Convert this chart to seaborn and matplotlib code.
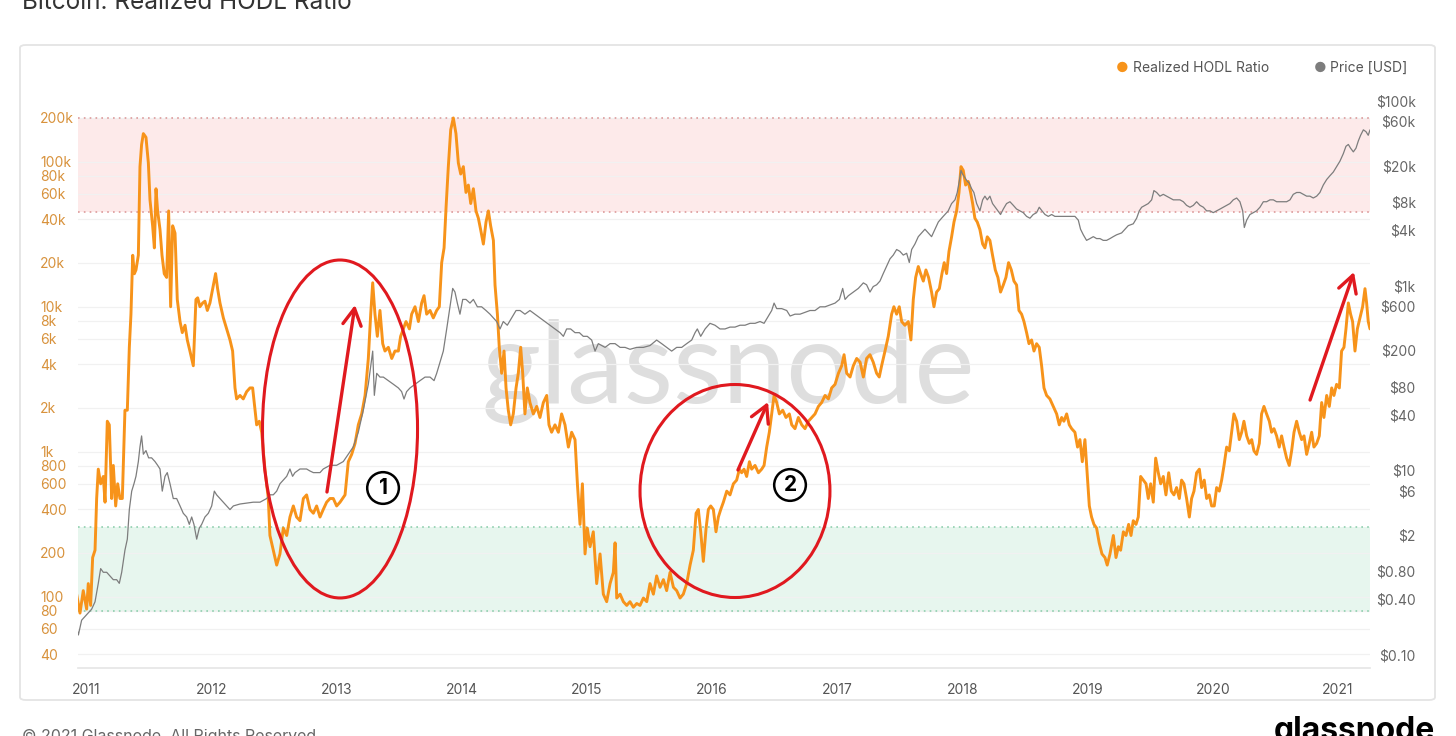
import pandas as pd
import matplotlib.pyplot as plt
import matplotlib.ticker as mticker
from matplotlib.patches import Ellipse, FancyBboxPatch
import seaborn as sns

# --- Data ---
# Realized HODL Ratio: decimal year, value
rhodl_year = [
    2010.925, 2010.952, 2010.978, 2011.005, 2011.018, 2011.037, 2011.053, 2011.072, 2011.085, 2011.098,
    2011.117, 2011.138, 2011.152, 2011.170, 2011.186, 2011.205, 2011.218, 2011.237, 2011.253, 2011.271,
    2011.290, 2011.311, 2011.330, 2011.346, 2011.359, 2011.373, 2011.386, 2011.399, 2011.418, 2011.431,
    2011.444, 2011.458, 2011.479, 2011.498, 2011.511, 2011.532, 2011.546, 2011.559, 2011.572, 2011.591,
    2011.607, 2011.625, 2011.644, 2011.660, 2011.676, 2011.692, 2011.711, 2011.729, 2011.751, 2011.769,
    2011.791, 2011.809, 2011.830, 2011.857, 2011.878, 2011.892, 2011.910, 2011.932, 2011.950, 2011.969,
    2011.990, 2012.017, 2012.035, 2012.051, 2012.070, 2012.097, 2012.123, 2012.150, 2012.171, 2012.190,
    2012.203, 2012.230, 2012.256, 2012.283, 2012.310, 2012.331, 2012.350, 2012.363, 2012.384, 2012.403,
    2012.429, 2012.456, 2012.469, 2012.496, 2012.523, 2012.549, 2012.576, 2012.603, 2012.629, 2012.656,
    2012.682, 2012.709, 2012.736, 2012.762, 2012.789, 2012.816, 2012.842, 2012.869, 2012.895, 2012.922,
    2012.949, 2012.975, 2013.002, 2013.029,
    2013.069, 2013.095, 2013.122, 2013.149, 2013.175, 2013.202, 2013.229, 2013.255, 2013.274, 2013.290,
    2013.308, 2013.327, 2013.348, 2013.370, 2013.388, 2013.415, 2013.442, 2013.468, 2013.495, 2013.513,
    2013.535, 2013.556, 2013.583, 2013.601, 2013.628, 2013.655, 2013.681, 2013.700, 2013.721, 2013.748,
    2013.774, 2013.801, 2013.822, 2013.841, 2013.860, 2013.876, 2013.894, 2013.913, 2013.934, 2013.955,
    2013.974, 2013.993, 2014.014, 2014.035, 2014.054, 2014.073, 2014.094, 2014.115, 2014.134, 2014.152,
    2014.174, 2014.195, 2014.214, 2014.232, 2014.254, 2014.267, 2014.286, 2014.301, 2014.320, 2014.339,
    2014.355, 2014.373, 2014.392, 2014.413, 2014.435, 2014.453, 2014.472, 2014.488, 2014.506, 2014.525,
    2014.546, 2014.573, 2014.600, 2014.626, 2014.653, 2014.680, 2014.698, 2014.719, 2014.746, 2014.773,
    2014.799, 2014.826, 2014.853, 2014.879, 2014.906, 2014.925, 2014.946, 2014.965, 2014.986, 2015.004,
    2015.026, 2015.052, 2015.079, 2015.106,
    2015.132, 2015.159, 2015.186, 2015.212, 2015.226, 2015.239, 2015.266, 2015.292, 2015.319, 2015.345,
    2015.372, 2015.399, 2015.425, 2015.452, 2015.479, 2015.505, 2015.532, 2015.558, 2015.585, 2015.612,
    2015.638, 2015.665, 2015.692, 2015.718, 2015.745, 2015.771, 2015.798, 2015.825, 2015.851, 2015.873,
    2015.891, 2015.910, 2015.931, 2015.953, 2015.971, 2015.990, 2016.011, 2016.032, 2016.051, 2016.070,
    2016.091, 2016.118, 2016.144, 2016.171, 2016.197, 2016.219, 2016.237, 2016.256, 2016.277, 2016.299,
    2016.317, 2016.344, 2016.371, 2016.397, 2016.416, 2016.437, 2016.458, 2016.477, 2016.496, 2016.517,
    2016.538, 2016.565, 2016.591, 2016.618, 2016.637, 2016.663, 2016.690, 2016.717, 2016.743, 2016.770,
    2016.797, 2016.823, 2016.850, 2016.876, 2016.903, 2016.930, 2016.956, 2016.983, 2017.010, 2017.036,
    2017.055, 2017.076, 2017.103, 2017.129, 2017.156, 2017.183,
    2017.209, 2017.235, 2017.262, 2017.288, 2017.315, 2017.336, 2017.355, 2017.382, 2017.408, 2017.435,
    2017.453, 2017.475, 2017.496, 2017.515, 2017.541, 2017.568, 2017.589, 2017.608, 2017.627, 2017.648,
    2017.666, 2017.688, 2017.709, 2017.730, 2017.754, 2017.773, 2017.794, 2017.816, 2017.837, 2017.855,
    2017.874, 2017.893, 2017.914, 2017.933, 2017.954, 2017.973, 2017.989, 2018.007, 2018.026, 2018.047,
    2018.066, 2018.082, 2018.100, 2018.119, 2018.140, 2018.162, 2018.180, 2018.199, 2018.220, 2018.241,
    2018.263, 2018.284, 2018.305, 2018.327, 2018.348, 2018.369, 2018.391, 2018.412, 2018.433, 2018.452,
    2018.473, 2018.492, 2018.513, 2018.532, 2018.553, 2018.572, 2018.593, 2018.614, 2018.633, 2018.652,
    2018.673, 2018.699, 2018.726, 2018.753, 2018.774, 2018.793, 2018.811, 2018.833, 2018.854, 2018.873,
    2018.899, 2018.920, 2018.939, 2018.958, 2018.979, 2018.998, 2019.014, 2019.032, 2019.051, 2019.072,
    2019.093, 2019.115, 2019.139, 2019.157, 2019.179,
    2019.206, 2019.227, 2019.246, 2019.264, 2019.286, 2019.307, 2019.328, 2019.347, 2019.365, 2019.387,
    2019.405, 2019.424, 2019.445, 2019.467, 2019.485, 2019.504, 2019.525, 2019.544, 2019.565, 2019.584,
    2019.605, 2019.626, 2019.648, 2019.669, 2019.690, 2019.711, 2019.733, 2019.751, 2019.770, 2019.791,
    2019.813, 2019.831, 2019.850, 2019.871, 2019.893, 2019.911, 2019.932, 2019.951, 2019.972, 2019.991,
    2020.012, 2020.031, 2020.052, 2020.071, 2020.090, 2020.111, 2020.132, 2020.151, 2020.169, 2020.191,
    2020.212, 2020.231, 2020.249, 2020.271, 2020.292, 2020.311, 2020.329, 2020.350, 2020.372, 2020.390,
    2020.409, 2020.430, 2020.452, 2020.470, 2020.489, 2020.510, 2020.531, 2020.550, 2020.569, 2020.590,
    2020.611, 2020.630, 2020.649, 2020.670, 2020.691, 2020.710, 2020.729, 2020.750, 2020.771, 2020.790,
    2020.808, 2020.830, 2020.851, 2020.870, 2020.888, 2020.910, 2020.931, 2020.950, 2020.968, 2020.989,
    2021.011, 2021.029, 2021.048, 2021.064, 2021.083, 2021.101, 2021.117, 2021.136, 2021.155, 2021.176,
    2021.197, 2021.216, 2021.229, 2021.242, 2021.256,
]
rhodl_value = [
    104, 77, 110, 82, 123, 87, 186, 209, 475, 757,
    600, 674, 448, 1620, 1530, 475, 803, 422, 600, 475,
    475, 1930, 1930, 5240, 8870, 22600, 16850, 17900, 22600, 92300,
    131000, 156000, 147000, 97900, 54500, 36100, 25400, 65000, 45700, 34000,
    22600, 16850, 15900, 45700, 9980, 36100, 32100, 11200, 7890, 6620,
    7440, 5890, 4940, 3910, 11200, 11500, 9980, 10600, 10900, 9410,
    10600, 14100, 16900, 13300, 10600, 8360, 7020, 5890, 4940, 2750,
    2310, 2440, 2310, 2590, 2750, 2750, 1930, 1530, 1620, 1360,
    757, 475, 264, 209, 165, 197, 297, 264, 354, 422,
    354, 334, 475, 503, 399, 376, 422, 354, 399, 448,
    475, 475, 422, 448,
    503, 852, 957, 1140, 1530, 1820, 2440, 4390, 8870, 14600,
    8870, 6240, 9410, 5550, 4940, 5240, 4390, 4940, 4940, 6240,
    7020, 7890, 7020, 8870, 9980, 7890, 10600, 11900, 8870, 9410,
    8360, 9410, 9980, 20100, 25400, 48500, 92300, 165800, 200000, 156000,
    97900, 82100, 92300, 61300, 68900, 51400, 65000, 45700, 40700, 34000,
    27000, 38300, 45700, 36100, 28600, 14100, 8870, 5240, 3470, 4940,
    2750, 1930, 1530, 1820, 2750, 3470, 5240, 3470, 1820, 2750,
    2180, 1820, 2050, 1720, 2180, 2440, 1530, 1360, 1530, 1360,
    1820, 1530, 1075, 1360, 1210, 600, 315, 600, 197, 297,
    221, 280, 123, 197,
    104, 92.3, 123, 147, 235, 97.8, 104, 92.3, 87, 92.3,
    84.5, 89.7, 87, 97.8, 92.3, 123, 104, 139, 116, 131,
    110, 147, 116, 110, 97.8, 104, 123, 165, 209, 376,
    399, 280, 175, 297, 399, 422, 399, 280, 354, 399,
    448, 534, 503, 600, 636, 757, 715, 757, 674, 852,
    757, 803, 715, 757, 803, 1075, 1360, 1820, 2440, 2180,
    1820, 1930, 1720, 1820, 1530, 1440, 1720, 1530, 1440, 1620,
    1720, 1820, 2050, 2180, 2440, 2310, 2750, 2910, 3470, 3910,
    4660, 3470, 3270, 3910, 4390, 4140,
    3270, 4390, 4660, 4140, 3470, 3270, 3910, 4940, 6240, 8870,
    9980, 8870, 9980, 7890, 7440, 7890, 5890, 11200, 15900, 18900,
    16900, 15000, 17900, 15900, 12600, 9980, 12600, 13300, 16900, 20100,
    16900, 24000, 30300, 38300, 45700, 61300, 92300, 87000, 68900, 73000,
    61300, 51400, 40700, 38300, 34000, 27000, 25400, 30300, 28600, 22600,
    17900, 15900, 12600, 14100, 15900, 20100, 17900, 15000, 14100, 9410,
    8870, 7890, 6620, 5550, 5890, 4940, 5550, 5240, 3910, 2750,
    2440, 2310, 2050, 1820, 1530, 1720, 1620, 1820, 1530, 1440,
    1360, 1075, 1210, 852, 1210, 674, 422, 354, 315, 297,
    235, 197, 186, 165, 197,
    264, 186, 221, 209, 280, 264, 315, 264, 334, 315,
    354, 674, 636, 600, 475, 600, 448, 902, 715, 600,
    674, 503, 715, 534, 503, 565, 475, 636, 600, 475,
    354, 475, 534, 715, 757, 565, 636, 475, 503, 422,
    422, 565, 534, 636, 803, 1075, 1013, 1360, 1820, 1620,
    1210, 1360, 1620, 1284, 1140, 1210, 1013, 957, 1140, 1820,
    2050, 1820, 1620, 1360, 1440, 1284, 1075, 1284, 1075, 902,
    803, 1013, 1360, 1620, 1360, 1210, 1284, 957, 1140, 1360,
    1075, 1140, 1284, 2180, 1720, 2440, 2050, 2750, 2440, 2910,
    2750, 4940, 5240, 7020, 10600, 8870, 7890, 4940, 7020, 8360,
    9980, 13300, 10600, 7890, 7020,
]

# Price [USD]: decimal year, value
price_year = [
    2010.925, 2010.939, 2010.965, 2010.992, 2011.018, 2011.045, 2011.072, 2011.098, 2011.117, 2011.138,
    2011.165, 2011.191, 2011.218, 2011.245, 2011.266, 2011.285, 2011.311, 2011.330, 2011.346, 2011.365,
    2011.383, 2011.399, 2011.418, 2011.431, 2011.444, 2011.458, 2011.479, 2011.500, 2011.524, 2011.551,
    2011.572, 2011.591, 2011.609, 2011.631, 2011.649, 2011.671, 2011.697, 2011.724, 2011.751, 2011.777,
    2011.804, 2011.825, 2011.844, 2011.862, 2011.884, 2011.905, 2011.924, 2011.950, 2011.977, 2012.004,
    2012.025, 2012.043, 2012.070, 2012.097, 2012.123, 2012.150, 2012.177, 2012.230, 2012.283, 2012.336,
    2012.390, 2012.443, 2012.469, 2012.496, 2012.523, 2012.549, 2012.576, 2012.603, 2012.629, 2012.650,
    2012.669, 2012.709, 2012.762, 2012.789, 2012.816, 2012.869, 2012.895, 2012.949, 2013.002,
    2013.055, 2013.095, 2013.135, 2013.175, 2013.215, 2013.255, 2013.274, 2013.290, 2013.303, 2013.322,
    2013.348, 2013.375, 2013.415, 2013.455, 2013.495, 2013.521, 2013.540, 2013.561, 2013.588, 2013.628,
    2013.668, 2013.708, 2013.748, 2013.780, 2013.801, 2013.828, 2013.854, 2013.881, 2013.907, 2013.929,
    2013.947, 2013.966, 2013.987, 2014.009, 2014.035, 2014.067, 2014.094, 2014.126, 2014.160, 2014.195,
    2014.227, 2014.254, 2014.280, 2014.307, 2014.333, 2014.365, 2014.400, 2014.435, 2014.467, 2014.506,
    2014.546, 2014.586, 2014.626, 2014.666, 2014.706, 2014.746, 2014.786, 2014.813, 2014.839, 2014.871,
    2014.906, 2014.941, 2014.972, 2015.004, 2015.039, 2015.066, 2015.092,
    2015.146, 2015.186, 2015.226, 2015.266, 2015.306, 2015.345, 2015.399, 2015.452, 2015.505, 2015.558,
    2015.598, 2015.638, 2015.678, 2015.718, 2015.758, 2015.798, 2015.838, 2015.865, 2015.883, 2015.910,
    2015.945, 2015.984, 2016.024, 2016.064, 2016.104, 2016.144, 2016.184, 2016.224, 2016.264, 2016.304,
    2016.344, 2016.384, 2016.416, 2016.442, 2016.477, 2016.496, 2016.517, 2016.557, 2016.597, 2016.624,
    2016.663, 2016.703, 2016.743, 2016.783, 2016.823, 2016.863, 2016.903, 2016.943, 2016.983, 2017.018,
    2017.044, 2017.063, 2017.089, 2017.129, 2017.169,
    2017.209, 2017.235, 2017.262, 2017.288, 2017.315, 2017.342, 2017.368, 2017.395, 2017.422, 2017.448,
    2017.475, 2017.501, 2017.528, 2017.555, 2017.576, 2017.595, 2017.621, 2017.648, 2017.674, 2017.701,
    2017.728, 2017.754, 2017.781, 2017.808, 2017.834, 2017.861, 2017.887, 2017.914, 2017.941, 2017.959,
    2017.975, 2017.989, 2018.002, 2018.021, 2018.039, 2018.055, 2018.074, 2018.092, 2018.114, 2018.140,
    2018.162, 2018.180, 2018.199, 2018.220, 2018.241, 2018.263, 2018.284, 2018.305, 2018.327, 2018.353,
    2018.380, 2018.407, 2018.433, 2018.460, 2018.486, 2018.513, 2018.540, 2018.566, 2018.593, 2018.614,
    2018.636, 2018.660, 2018.686, 2018.713, 2018.739, 2018.779, 2018.819, 2018.859, 2018.899, 2018.926,
    2018.944, 2018.966, 2018.992, 2019.019, 2019.046, 2019.072, 2019.099, 2019.125, 2019.152, 2019.179,
    2019.205,
    2019.232, 2019.272, 2019.299, 2019.325, 2019.365, 2019.392, 2019.413, 2019.432, 2019.459, 2019.485,
    2019.512, 2019.530, 2019.552, 2019.578, 2019.605, 2019.632, 2019.658, 2019.685, 2019.711, 2019.738,
    2019.765, 2019.791, 2019.818, 2019.845, 2019.871, 2019.898, 2019.925, 2019.951, 2019.978, 2020.004,
    2020.031, 2020.058, 2020.084, 2020.111, 2020.137, 2020.164, 2020.191, 2020.217, 2020.239, 2020.252,
    2020.271, 2020.297, 2020.324, 2020.350, 2020.377, 2020.404, 2020.430, 2020.457, 2020.484, 2020.510,
    2020.537, 2020.563, 2020.590, 2020.617, 2020.643, 2020.670, 2020.697, 2020.723, 2020.750, 2020.776,
    2020.803, 2020.830, 2020.856, 2020.883, 2020.910, 2020.936, 2020.963, 2020.989, 2021.016, 2021.043,
    2021.064, 2021.083, 2021.101, 2021.123, 2021.144, 2021.163, 2021.181, 2021.203, 2021.224, 2021.242,
    2021.256,
]
price_value = [
    0.197, 0.164, 0.237, 0.260, 0.285, 0.312, 0.375, 0.594, 0.858, 0.783,
    0.783, 0.714, 0.651, 0.651, 0.594, 0.783, 1.36, 1.79, 3.74, 5.93,
    7.12, 8.58, 12.4, 17.9, 23.5, 14.9, 16.3, 13.6, 13.6, 12.4,
    11.3, 10.3, 5.93, 8.58, 9.41, 7.12, 4.93, 4.93, 4.10, 3.41,
    3.11, 2.59, 3.11, 2.59, 1.79, 2.36, 2.59, 3.11, 3.41, 4.10,
    5.93, 5.41, 4.93, 4.50, 4.10, 3.74, 4.10, 4.30, 4.40, 4.50,
    4.50, 4.93, 5.41, 5.41, 5.93, 7.12, 7.81, 8.58, 10.3, 8.58,
    9.41, 10.3, 10.3, 9.80, 9.41, 9.41, 10.3, 11.3, 11.3,
    12.4, 14.9, 17.9, 25.8, 44.8, 85.3, 135, 195, 64.7, 112,
    102, 102, 93.4, 85.3, 77.8, 71.0, 59.0, 71.0, 77.8, 85.3,
    93.4, 102, 102, 93.4, 112, 148, 195, 339, 590, 932,
    851, 646, 490, 708, 708, 646, 708, 589, 589, 537,
    490, 447, 408, 339, 408, 372, 447, 537, 537, 490,
    537, 490, 447, 408, 372, 339, 309, 282, 339, 339,
    309, 309, 282, 282, 257, 195, 235,
    214, 235, 235, 214, 214, 204, 214, 214, 224, 257,
    235, 214, 195, 214, 214, 235, 257, 309, 339, 282,
    339, 390, 372, 339, 339, 355, 355, 372, 372, 390,
    390, 408, 390, 447, 537, 646, 563, 563, 537, 468,
    490, 490, 513, 537, 537, 589, 589, 617, 646, 708,
    932, 708, 776, 851, 932,
    1070, 1020, 851, 976, 1020, 1120, 1350, 1620, 1950, 2140,
    2460, 2350, 2140, 2240, 1780, 2460, 2820, 3390, 3720, 4080,
    3720, 3390, 4080, 4890, 5370, 5890, 6450, 7740, 8490, 10200,
    13500, 17700, 16100, 14700, 13500, 12900, 11200, 10200, 7740, 6450,
    8490, 9310, 8490, 9310, 7740, 7060, 6450, 5890, 6750, 7740,
    8100, 7400, 6750, 6450, 6170, 5620, 5370, 5890, 6170, 7060,
    6450, 5890, 5620, 5890, 5620, 5620, 5620, 5620, 5620, 5120,
    4080, 3550, 3090, 3230, 3390, 3230, 3230, 3090, 3090, 3230,
    3390,
    3550, 3720, 4080, 4460, 4670, 5370, 6450, 7060, 7400, 7740,
    8490, 10700, 10200, 9310, 9740, 9310, 8890, 8490, 8490, 8490,
    8100, 7400, 7060, 7400, 8100, 7400, 7060, 6450, 6450, 6170,
    6450, 6750, 7060, 7400, 7740, 8490, 8890, 8100, 6450, 4260,
    5120, 5890, 6170, 6450, 7060, 8100, 8100, 8490, 8490, 8100,
    8100, 8100, 8100, 8490, 9740, 10200, 10200, 9740, 9310, 9310,
    8890, 9310, 10200, 12300, 14100, 15500, 17000, 19400, 22300, 26900,
    32300, 33800, 30800, 28100, 30800, 37000, 42500, 48700, 46500, 42500,
    48700,
]

# Axis ticks
year_ticks = list(range(2011, 2022))
ratio_ticks = [200000, 100000, 80000, 60000, 40000, 20000, 10000, 8000, 6000, 4000,
               2000, 1000, 800, 600, 400, 200, 100, 80, 60, 40]
ratio_labels = ['200k', '100k', '80k', '60k', '40k', '20k', '10k', '8k', '6k', '4k',
                '2k', '1k', '800', '600', '400', '200', '100', '80', '60', '40']
price_ticks = [100000, 60000, 20000, 8000, 4000, 1000, 600, 200, 80, 40, 10, 6, 2, 0.8, 0.4, 0.1]
price_labels = [r'\$100k', r'\$60k', r'\$20k', r'\$8k', r'\$4k', r'\$1k', r'\$600', r'\$200',
                r'\$80', r'\$40', r'\$10', r'\$6', r'\$2', r'\$0.80', r'\$0.40', r'\$0.10']

# Sell / buy zones of the ratio
red_zone = (45000, 200000)
green_zone = (80, 300)

rhodl_df = pd.DataFrame({'year': rhodl_year, 'ratio': rhodl_value})
price_df = pd.DataFrame({'year': price_year, 'price': price_value})

# --- Style ---
sns.set_theme(style='white')
plt.rcParams['font.family'] = ['Inter', 'DejaVu Sans']

ORANGE = '#f7931a'
GREY = '#7d7d7d'
RED = '#e0191f'

fig = plt.figure(figsize=(14.56, 7.36), dpi=100, facecolor='white')
ax = fig.add_axes([78 / 1456, 68 / 736, 1292 / 1456, 568 / 736])

# panel frame
frame = FancyBboxPatch((20 / 1456, 36 / 736), 1415 / 1456, 655 / 736,
                       boxstyle='round,pad=0,rounding_size=0.004',
                       transform=fig.transFigure, fc='none', ec='#e4e4e4', lw=1.3)
fig.add_artist(frame)

ax.set_yscale('log')
ax.set_ylim(32.2, 266000)
ax.set_xlim(2010.936, 2021.256)

# zones
ax.axhspan(*red_zone, color='#fdeaea', zorder=0, lw=0)
ax.axhspan(*green_zone, color='#e7f6ee', zorder=0, lw=0)
for v in red_zone:
    ax.axhline(v, color='#dd9a9a', lw=1.2, ls=(0, (1, 2.5)), zorder=1)
for v in green_zone:
    ax.axhline(v, color='#8fcfae', lw=1.2, ls=(0, (1, 2.5)), zorder=1)

# watermark
ax.text(0.503, 0.522, 'glassnode', transform=ax.transAxes, ha='center', va='center',
        fontsize=82, color='#dedede', zorder=0.5, family=['Lato', 'DejaVu Sans'])

sns.lineplot(data=rhodl_df, x='year', y='ratio', ax=ax, color=ORANGE, linewidth=2.1,
             estimator=None, sort=False, zorder=3)

ax2 = ax.twinx()
ax2.set_yscale('log')
ax2.set_ylim(0.0719, 102500)
sns.lineplot(data=price_df, x='year', y='price', ax=ax2, color=GREY, linewidth=0.9,
             estimator=None, sort=False, zorder=3)
ax2.set_xlim(2010.936, 2021.256)

# --- Axes formatting ---
ax.set_xlabel('')
ax.set_ylabel('')
ax2.set_ylabel('')
ax.set_xticks(year_ticks, labels=[str(y) for y in year_ticks])
ax.set_yticks(ratio_ticks, labels=ratio_labels)
ax.yaxis.set_minor_locator(mticker.NullLocator())
ax2.set_yticks(price_ticks, labels=price_labels)
ax2.yaxis.set_minor_locator(mticker.NullLocator())

ax.grid(axis='y', color='#f1f1f1', lw=0.9, zorder=0)
ax.tick_params(axis='y', length=0, pad=27.4, labelcolor='#d8923c', labelsize=10)
for lab in ax.get_yticklabels():
    lab.set_ha('left')
ax.tick_params(axis='x', length=5, color='#e6e6e6', pad=6, labelcolor='#555555', labelsize=10)
ax2.tick_params(axis='y', length=0, pad=33, labelcolor='#666666', labelsize=10)
for lab in ax2.get_yticklabels():
    lab.set_ha('right')

for name, sp in ax.spines.items():
    sp.set_visible(name == 'bottom')
ax.spines['bottom'].set_color('#e6e6e6')
for sp in ax2.spines.values():
    sp.set_visible(False)

# --- Annotations ---
ax2.add_patch(Ellipse((0.2028, 0.4208), 0.120, 0.595, transform=ax2.transAxes,
                      fill=False, ec=RED, lw=2.2, zorder=5))
ax2.add_patch(Ellipse((0.5085, 0.3116), 0.147, 0.375, transform=ax2.transAxes,
                      fill=False, ec=RED, lw=2.2, zorder=5))
arrows = [((0.1927, 0.3099), (0.2144, 0.6391)),
          ((0.5108, 0.3486), (0.5341, 0.4683)),
          ((0.9536, 0.4718), (0.9876, 0.6972))]
for tail, head in arrows:
    ax2.annotate('', xy=head, xytext=tail, xycoords='axes fraction',
                 arrowprops=dict(arrowstyle='->,head_length=1.0,head_width=0.55',
                                 color=RED, lw=2.4, shrinkA=0, shrinkB=0), zorder=6)
for num, (x, y) in [('1', (0.2361, 0.3169)), ('2', (0.5511, 0.3222))]:
    ax2.text(x, y, num, transform=ax2.transAxes, ha='center', va='center',
             fontsize=15, fontweight='bold', color='black', zorder=6,
             bbox=dict(boxstyle='circle,pad=0.28', fc='white', ec='black', lw=1.8))

# --- Legend, title, footer ---
fig.text(1122 / 1456, 1 - 68 / 736, '●', color=ORANGE, fontsize=10, ha='center', va='center')
fig.text(1133 / 1456, 1 - 68 / 736, 'Realized HODL Ratio', color='#555555', fontsize=10,
         ha='left', va='center')
fig.text(1320 / 1456, 1 - 68 / 736, '●', color=GREY, fontsize=10, ha='center', va='center')
fig.text(1330 / 1456, 1 - 68 / 736, 'Price [USD]', color='#555555', fontsize=10,
         ha='left', va='center')

fig.text(22 / 1456, 1 - 9 / 736, 'Bitcoin: Realized HODL Ratio', color='#333333',
         fontsize=17.5, ha='left', va='baseline')
fig.text(22 / 1456, 1 - 729 / 736, '© 2021 Glassnode. All Rights Reserved.', color='#666666',
         fontsize=11.5, ha='left', va='top')
fig.text(1435 / 1456, 1 - 716 / 736, 'glassnode', color='black', fontsize=23,
         fontweight='bold', ha='right', va='top')

fig.savefig('out.png', dpi=100, facecolor='white')
